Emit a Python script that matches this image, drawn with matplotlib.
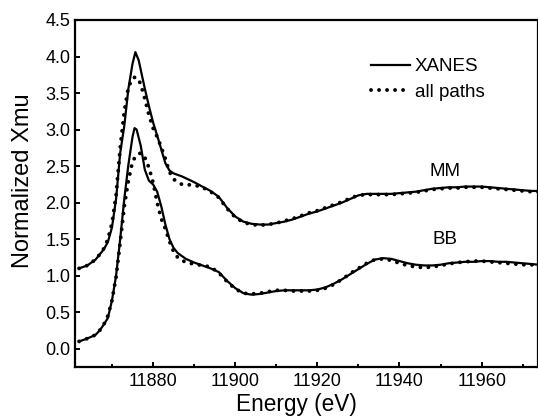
import matplotlib
matplotlib.use("Agg")
import matplotlib.pyplot as plt
from matplotlib.ticker import MultipleLocator, FormatStrFormatter

plt.rcParams['font.family'] = ['Liberation Sans', 'DejaVu Sans']

# ---------------- data ----------------
energy_bb = [11862, 11864, 11866, 11867, 11868, 11869, 11870, 11871, 11872, 11873,
             11874, 11875, 11875.5, 11876, 11877, 11878, 11879, 11880, 11881, 11882,
             11883, 11884, 11885, 11886, 11888, 11890, 11892, 11894, 11896, 11898,
             11900, 11902, 11904, 11906, 11908, 11910, 11912, 11914, 11916, 11918,
             11920, 11922, 11924, 11926, 11928, 11930, 11932, 11934, 11936, 11938,
             11940, 11942, 11944, 11946, 11948, 11950, 11952, 11954, 11956, 11958,
             11960, 11962, 11964, 11966, 11968, 11970, 11972, 11974]
bb_xanes = [0.10, 0.14, 0.19, 0.25, 0.33, 0.42, 0.66, 1.00, 1.50, 2.05,
            2.52, 2.90, 3.02, 3.00, 2.78, 2.45, 2.30, 2.25, 2.15, 1.95,
            1.70, 1.50, 1.38, 1.31, 1.23, 1.18, 1.14, 1.10, 1.05, 0.93,
            0.83, 0.76, 0.74, 0.75, 0.77, 0.79, 0.80, 0.80, 0.80, 0.80,
            0.81, 0.84, 0.89, 0.95, 1.02, 1.09, 1.16, 1.22, 1.24, 1.23,
            1.20, 1.17, 1.15, 1.14, 1.14, 1.15, 1.17, 1.18, 1.19, 1.19,
            1.20, 1.20, 1.19, 1.19, 1.18, 1.17, 1.16, 1.15]
bb_paths = [0.10, 0.14, 0.19, 0.25, 0.33, 0.45, 0.66, 0.98, 1.45, 1.95,
            2.30, 2.56, 2.61, 2.65, 2.68, 2.62, 2.48, 2.28, 2.00, 1.78,
            1.64, 1.47, 1.33, 1.25, 1.18, 1.16, 1.14, 1.12, 1.04, 0.92,
            0.82, 0.76, 0.75, 0.76, 0.78, 0.80, 0.80, 0.79, 0.79, 0.79,
            0.80, 0.83, 0.88, 0.95, 1.03, 1.10, 1.17, 1.22, 1.23, 1.21,
            1.17, 1.14, 1.12, 1.11, 1.12, 1.14, 1.16, 1.18, 1.19, 1.20,
            1.20, 1.19, 1.18, 1.17, 1.16, 1.15, 1.15, 1.14]

energy_mm = [11862, 11864, 11866, 11867, 11868, 11869, 11870, 11871, 11872, 11873,
             11874, 11875, 11875.7, 11876.5, 11877, 11878, 11879, 11880, 11881, 11882,
             11883, 11884, 11885, 11887, 11890, 11892, 11894, 11896, 11898,
             11900, 11902, 11904, 11906, 11908, 11910, 11912, 11914, 11916, 11918,
             11920, 11922, 11924, 11926, 11928, 11930, 11932, 11934, 11936, 11938,
             11940, 11942, 11944, 11946, 11948, 11950, 11952, 11954, 11956, 11958,
             11960, 11962, 11964, 11966, 11968, 11970, 11972, 11974]
mm_xanes = [1.10, 1.14, 1.22, 1.29, 1.36, 1.46, 1.66, 2.05, 2.68, 3.05,
            3.56, 3.90, 4.06, 3.95, 3.82, 3.56, 3.32, 3.10, 2.92, 2.73,
            2.54, 2.44, 2.40, 2.36, 2.28, 2.22, 2.16, 2.08, 1.93,
            1.81, 1.74, 1.71, 1.70, 1.70, 1.72, 1.74, 1.77, 1.81, 1.85,
            1.88, 1.92, 1.96, 2.00, 2.05, 2.10, 2.12, 2.12, 2.12, 2.12,
            2.13, 2.14, 2.15, 2.17, 2.19, 2.20, 2.21, 2.21, 2.22, 2.22,
            2.22, 2.21, 2.20, 2.19, 2.18, 2.17, 2.16, 2.16]
mm_paths = [1.10, 1.14, 1.22, 1.29, 1.37, 1.50, 1.72, 2.10, 2.75, 3.25,
            3.58, 3.70, 3.72, 3.68, 3.62, 3.42, 3.20, 3.02, 2.90, 2.76,
            2.60, 2.42, 2.32, 2.25, 2.24, 2.21, 2.15, 2.07, 1.92,
            1.80, 1.73, 1.70, 1.69, 1.70, 1.72, 1.75, 1.78, 1.82, 1.86,
            1.89, 1.93, 1.97, 2.01, 2.06, 2.10, 2.11, 2.11, 2.11, 2.11,
            2.12, 2.13, 2.14, 2.16, 2.18, 2.19, 2.20, 2.20, 2.21, 2.21,
            2.21, 2.20, 2.19, 2.18, 2.17, 2.16, 2.15, 2.15]

series_labels = ["XANES", "all paths"]
sample_labels = ["MM", "BB"]
sample_label_pos = [(11951, 2.43), (11951, 1.50)]

xlim = (11861, 11973.6)
ylim = (-0.25, 4.5)

# ---------------- figure ----------------
fig = plt.figure(figsize=(5.38, 4.20), dpi=100)
ax = fig.add_axes([75 / 538, 53 / 420, 462.5 / 538, 347 / 420])

dot_style = dict(color='black', lw=2.8, linestyle=(0, (0.01, 2.05)),
                 dash_capstyle='round')
solid_style = dict(color='black', lw=1.6)

l1, = ax.plot(energy_mm, mm_xanes, **solid_style)
l2, = ax.plot(energy_mm, mm_paths, **dot_style)
ax.plot(energy_bb, bb_xanes, **solid_style)
ax.plot(energy_bb, bb_paths, **dot_style)

for lab, (x, y) in zip(sample_labels, sample_label_pos):
    ax.text(x, y, lab, ha='center', va='center', fontsize=13.5)

ax.set_xlim(*xlim)
ax.set_ylim(*ylim)
ax.xaxis.set_major_locator(MultipleLocator(20))
ax.xaxis.set_minor_locator(MultipleLocator(10))
ax.yaxis.set_major_locator(MultipleLocator(0.5))
ax.yaxis.set_major_formatter(FormatStrFormatter('%.1f'))

ax.tick_params(which='both', direction='in', width=1.4, labelsize=13)
ax.tick_params(which='major', length=3.8, pad=3.5)
ax.tick_params(which='minor', length=2.4)
ax.tick_params(axis='x', which='major', pad=4)
for s in ax.spines.values():
    s.set_linewidth(1.6)

ax.set_xlabel("Energy (eV)", fontsize=16.3)
ax.xaxis.set_label_coords(0.479, -0.075)
ax.set_ylabel("Normalized Xmu", fontsize=17)
ax.yaxis.set_label_coords(-0.088, 0.536)

leg = ax.legend([l1, l2], series_labels, loc='upper left',
                bbox_to_anchor=(371 / 538, 1 - 58 / 420),
                bbox_transform=fig.transFigure, frameon=False,
                fontsize=13.5, handlelength=2.1, handletextpad=0.25,
                labelspacing=0.45, borderpad=0, borderaxespad=0)

fig.savefig("out.png", dpi=100)
